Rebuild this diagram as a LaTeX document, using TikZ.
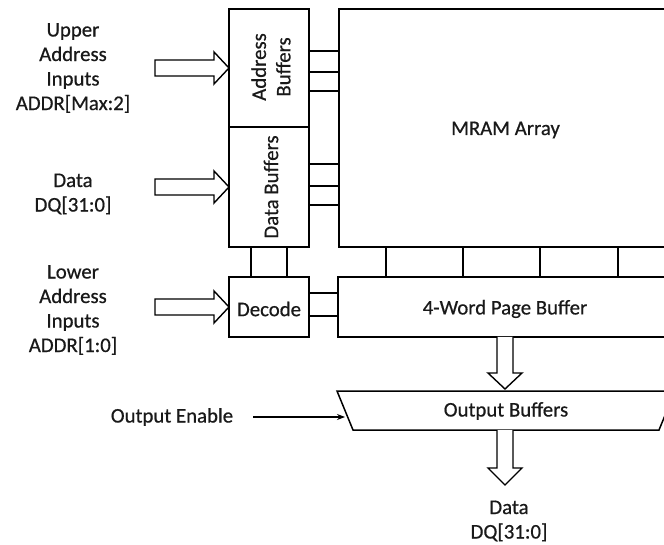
\documentclass[tikz,border=0pt]{standalone}
\usepackage{fontspec}
\setmainfont{Carlito}
\newfontfamily\labfont{Carlito}[FakeBold=0.6]
\usetikzlibrary{arrows.meta,calc}
\begin{document}
\begin{tikzpicture}[x=1pt,y=-1pt,
  box/.style={draw, line width=1.5pt, inner sep=0pt, outer sep=0pt},
  txt/.style={font=\labfont\fontsize{20.8}{24.5}\selectfont, align=center, inner sep=0pt, text=black!90},
  wire/.style={line width=1.5pt},
  hollow/.style={draw, line width=1.4pt, fill=white, line join=miter},
  sig/.style={line width=1.2pt, -{Stealth[length=8pt,width=6pt]}}]
\useasboundingbox (0,0) rectangle (664,545);
\clip (0,0) rectangle (664,545);
% boxes
\node[box, minimum width=80pt, minimum height=118pt] (ab) at (269,68) {};
\node[box, minimum width=80pt, minimum height=120pt] (db) at (269,187) {};
\node[box, minimum width=333pt, minimum height=238pt] (mram) at (505.5,128) {};
\node[box, minimum width=80pt, minimum height=60pt] (dec) at (269,307) {};
\node[box, minimum width=334pt, minimum height=60pt] (pb) at (505,307) {};
\node[txt, rotate=90] (abt) at (271,67) {Address\\Buffers};
\node[txt, rotate=90] (dbt) at (271,187) {Data Buffers};
\node[txt] (mramt) at (505.5,130) {MRAM Array};
\node[txt] (dect) at (269,309) {Decode};
\node[txt] (pbt) at (505,309) {4-Word Page Buffer};
% output buffers trapezoid
\draw[line width=1.5pt, line join=miter] (337,391) -- (675,391) -- (659,430) -- (353,430) -- cycle;
\node[txt] (ob) at (506,411) {Output Buffers};
\coordinate (obtop) at (505,391);
\coordinate (obbot) at (505,430);
\coordinate (oein) at (345,417);
% labels
\node[txt] (upin) at (73,68) {Upper\\Address\\Inputs\\ADDR[Max:2]};
\node[txt] (datin) at (73,194) {Data\\DQ[31:0]};
\node[txt] (lowin) at (73,310) {Lower\\Address\\Inputs\\ADDR[1:0]};
\node[txt] (oe) at (172,417) {Output Enable};
\node[txt] (datout) at (509,521) {Data\\DQ[31:0]};
% wires
\foreach \yy in {51,72,91} \draw[wire] (ab.east |- 0,\yy) -- (mram.west |- 0,\yy);
\foreach \yy in {164,186,205} \draw[wire] (db.east |- 0,\yy) -- (mram.west |- 0,\yy);
\foreach \xx in {386,463,540,618} \draw[wire] (mram.south -| \xx,0) -- (pb.north -| \xx,0);
\foreach \xx in {251,287} \draw[wire] (db.south -| \xx,0) -- (dec.north -| \xx,0);
\foreach \yy in {293,316} \draw[wire] (dec.east |- 0,\yy) -- (pb.west |- 0,\yy);
% hollow arrows
\draw[hollow, shift={(ab.west)}] (0,0) -- (-15,-16) -- (-15,-8) -- (-74,-8) -- (-74,8) -- (-15,8) -- (-15,16) -- cycle;
\draw[hollow, shift={(db.west)}] (0,0) -- (-15,-16) -- (-15,-8) -- (-74,-8) -- (-74,8) -- (-15,8) -- (-15,16) -- cycle;
\draw[hollow, shift={(dec.west)}] (0,0) -- (-15,-16) -- (-15,-8) -- (-74,-8) -- (-74,8) -- (-15,8) -- (-15,16) -- cycle;
\draw[hollow, shift={(pb.south)}] (-8,0) -- (-8,36) -- (-17,36) -- (0,52) -- (17,36) -- (8,36) -- (8,0);
\draw[hollow, shift={(obbot)}] (-8,0) -- (-8,38) -- (-17,38) -- (0,55) -- (17,38) -- (8,38) -- (8,0);
% output enable
\draw[sig] (oe.east) ++(20,0) coordinate (oestart) (oestart) -- (oein);
\end{tikzpicture}
\end{document}
